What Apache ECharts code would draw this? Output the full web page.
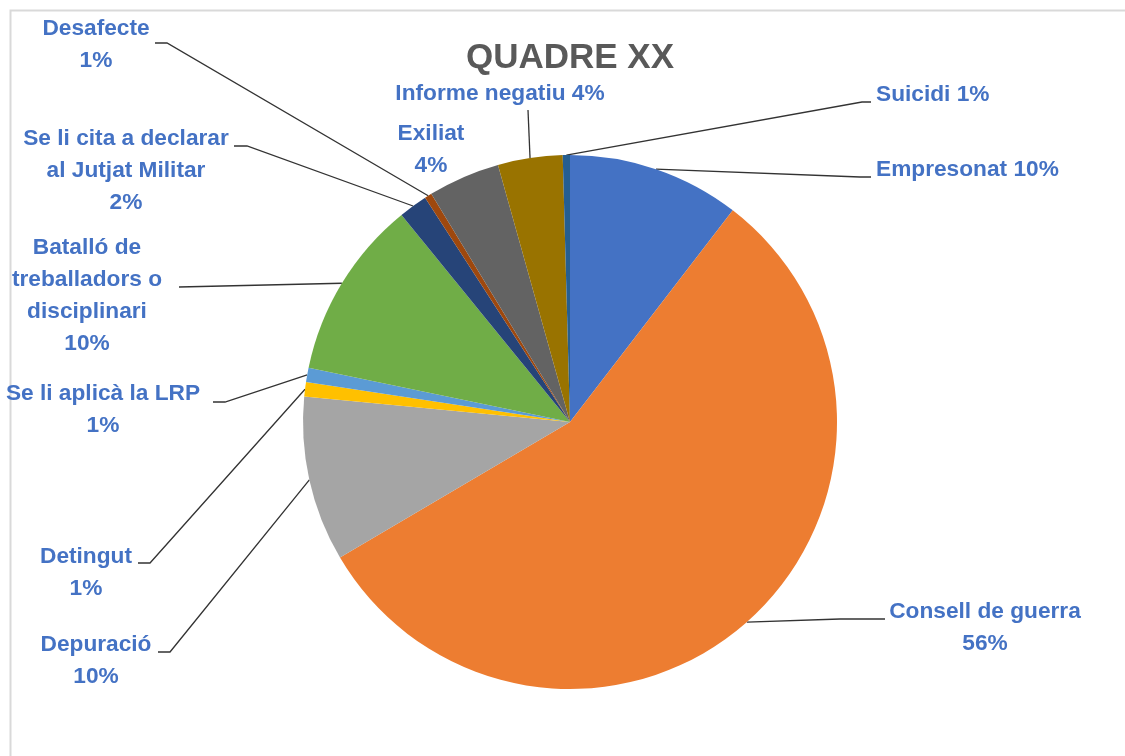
<!DOCTYPE html>
<html>
<head>
<meta charset="utf-8">
<script src="https://cdn.jsdelivr.net/npm/echarts@6/dist/echarts.min.js"></script>
<style>
html,body{margin:0;padding:0;background:#fff;}
#chart{width:1125px;height:756px;}
</style>
</head>
<body>
<div id="chart"></div>
<script>
// ---- data ----
const titleText = 'QUADRE XX';
const categories = [
  'Empresonat',
  'Consell de guerra',
  'Depuració',
  'Detingut',
  'Se li aplicà la LRP',
  'Batalló de\ntreballadors o\ndisciplinari',
  'Se li cita a declarar\nal Jutjat Militar',
  'Desafecte',
  'Exiliat',
  'Informe negatiu',
  'Suicidi'
];
const values = [24, 129, 23, 2, 2, 25, 4, 1, 10, 9, 1];
const pctLabels = ['10%', '56%', '10%', '1%', '1%', '10%', '2%', '1%', '4%', '4%', '1%'];

// ---- style / layout ----
const colors = ['#4472C4', '#ED7D31', '#A5A5A5', '#FFC000', '#5B9BD5', '#70AD47',
                '#264478', '#9E480E', '#636363', '#997300', '#255E91'];
// label anchor (x,y = block centre / left-middle), separator between name and pct, leader line bend/end
const spots = [
  {x: 876, y: 170, align: 'left',   sep: ' ',  bend: [860, 177], end: [871, 177]},
  {x: 985, y: 628, align: 'center', sep: '\n', bend: [840, 619], end: [885, 619]},
  {x: 96,  y: 661, align: 'center', sep: '\n', bend: [170, 652], end: [158, 652]},
  {x: 86,  y: 573, align: 'center', sep: '\n', bend: [150, 563], end: [138, 563]},
  {x: 103, y: 410, align: 'center', sep: '\n', bend: [225, 402], end: [213, 402]},
  {x: 87,  y: 296, align: 'center', sep: '\n', bend: null,       end: [179, 287]},
  {x: 126, y: 171, align: 'center', sep: '\n', bend: [247, 146], end: [234, 146]},
  {x: 96,  y: 45,  align: 'center', sep: '\n', bend: [167, 43],  end: [155, 43]},
  {x: 431, y: 150, align: 'center', sep: '\n', bend: null,       end: null},
  {x: 500, y: 94,  align: 'center', sep: ' ',  bend: null,       end: [528, 110]},
  {x: 876, y: 95,  align: 'left',   sep: ' ',  bend: [862, 102], end: [871, 102]}
];

const seriesData = categories.map(function (name, i) {
  const item = {name: name, value: values[i], itemStyle: {color: colors[i]}};
  if (!spots[i].end) item.labelLine = {show: false};
  return item;
});

const chart = echarts.init(document.getElementById('chart'), null, {renderer: 'canvas'});
chart.setOption({
  animation: false,
  backgroundColor: '#ffffff',
  graphic: [
    {type: 'rect', left: 8, top: 8, shape: {width: 1300, height: 900},
     style: {fill: 'none', stroke: '#d9d9d9', lineWidth: 2}, silent: true, z: -1},
    {type: 'text', x: 570, y: 58,
     style: {text: titleText, fill: '#595959', font: 'bold 35px "Liberation Sans"',
             textAlign: 'center', textVerticalAlign: 'middle'}}
  ],
  series: [{
    type: 'pie',
    center: [570, 422],
    radius: 267,
    startAngle: 90,
    clockwise: true,
    avoidLabelOverlap: false,
    minShowLabelAngle: 0,
    itemStyle: {borderWidth: 0},
    label: {
      show: true,
      position: 'outside',
      color: '#4472C4',
      fontFamily: 'Liberation Sans',
      fontWeight: 'bold',
      fontSize: 22.7,
      lineHeight: 32,
      formatter: function (p) {
        return p.name + spots[p.dataIndex].sep + pctLabels[p.dataIndex];
      }
    },
    labelLine: {show: true, length: 10, length2: 10, smooth: false,
                lineStyle: {color: '#333333', width: 1.3}},
    labelLayout: function (params) {
      const s = spots[params.dataIndex];
      const out = {x: s.x, y: s.y, align: s.align, verticalAlign: 'middle'};
      if (s.end && params.labelLinePoints) {
        const p0 = params.labelLinePoints[0];
        out.labelLinePoints = s.bend ? [p0, s.bend, s.end] : [p0, s.end];
      }
      return out;
    },
    emphasis: {disabled: true},
    data: seriesData
  }]
});
</script>
</body>
</html>
